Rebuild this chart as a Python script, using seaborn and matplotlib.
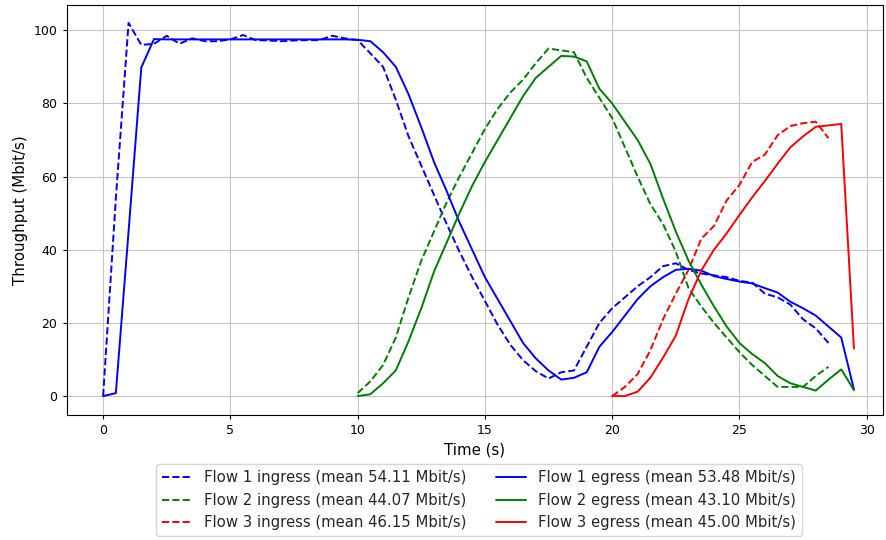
import matplotlib
matplotlib.use("Agg")
import matplotlib.pyplot as plt
import seaborn as sns

# Sample times (s), 0.5 s steps
t_flow1_in = [i * 0.5 for i in range(58)]    # 0 .. 28.5
t_flow1_out = [i * 0.5 for i in range(60)]   # 0 .. 29.5
t_flow2_in = [10 + i * 0.5 for i in range(38)]
t_flow2_out = [10 + i * 0.5 for i in range(40)]
t_flow3_in = [20 + i * 0.5 for i in range(18)]
t_flow3_out = [20 + i * 0.5 for i in range(20)]

# Throughput (Mbit/s)
flow1_ingress = [0, 54, 102, 96, 96.3, 98.5, 96.3, 97.8, 97, 97, 97.5, 98.7, 97.3, 97.2, 97, 97.2,
                 97.3, 97.3, 98.5, 97.8, 97.3, 93.7, 90, 81, 71, 63, 55, 47, 39.5, 32.5, 26,
                 19.5, 14, 9.8, 6.8, 4.8, 6.5, 7, 13.5, 20, 24, 27, 30, 32.5, 35.5, 36.3, 34.5,
                 33.5, 33, 32.5, 31.5, 31, 28, 27, 25, 21, 18.5, 14.5]
flow1_egress = [0, 0.8, 45, 89.8, 97.6, 97.5, 97.5, 97.5, 97.5, 97.5, 97.5, 97.5, 97.5, 97.5,
                97.5, 97.5, 97.5, 97.5, 97.5, 97.5, 97.4, 97, 94, 90, 82.5, 73.5, 64, 56, 47.5,
                40, 32.5, 26.5, 20.5, 14.5, 10.3, 7, 4.5, 5, 6.5, 13.5, 17.5, 22, 26.5, 30,
                32.5, 34.5, 34.8, 34.3, 32.8, 32, 31.3, 30.8, 29.5, 28.3, 25.8, 24, 22, 19,
                16, 1.8]
flow2_ingress = [0.8, 4, 8.5, 16, 27, 37, 45, 53, 60, 66.5, 73, 78.5, 83, 86.5, 91, 95, 94.5,
                 94, 87, 81.5, 76, 68, 60, 52.5, 47, 39.5, 29.5, 24.5, 20, 16, 12, 8.5, 5.5,
                 2.5, 2.5, 2.5, 5.5, 8]
flow2_egress = [0, 0.5, 3.5, 7, 15, 24, 34, 42, 50, 57.5, 64, 70, 76, 82, 87, 90, 93, 92.8,
                91.5, 84, 80, 75, 70, 63.5, 54, 45, 37, 30.5, 24.5, 19, 14.5, 11.5, 9, 5.5,
                3.5, 2.5, 1.5, 4.5, 7.3, 1.6]
flow3_ingress = [0, 2.5, 6, 12.5, 21, 28, 34.5, 43, 46.5, 53.5, 57.7, 64, 66, 71.3, 73.8, 74.6,
                 75, 70.5]
flow3_egress = [0, 0, 1.2, 5, 10.5, 16.5, 26.5, 34.3, 40, 44.5, 49.5, 54.3, 58.8, 63.5, 68,
                71, 73.6, 74, 74.4, 13]

labels_in = ["Flow 1 ingress (mean 54.11 Mbit/s)",
             "Flow 2 ingress (mean 44.07 Mbit/s)",
             "Flow 3 ingress (mean 46.15 Mbit/s)"]
labels_out = ["Flow 1 egress (mean 53.48 Mbit/s)",
              "Flow 2 egress (mean 43.10 Mbit/s)",
              "Flow 3 egress (mean 45.00 Mbit/s)"]
colors = ["blue", "green", "red"]

sns.set_style("ticks", {"axes.grid": True, "grid.color": "#c4c4c4",
                        "axes.edgecolor": "black", "xtick.color": "black",
                        "ytick.color": "black", "axes.labelcolor": "black"})
plt.rcParams["font.family"] = ["DejaVu Sans"]

fig = plt.figure(figsize=(8.86, 5.40), dpi=100)
ax = fig.add_axes([0.0753, 0.232, 0.921, 0.7587])

ingress = [(t_flow1_in, flow1_ingress), (t_flow2_in, flow2_ingress), (t_flow3_in, flow3_ingress)]
egress = [(t_flow1_out, flow1_egress), (t_flow2_out, flow2_egress), (t_flow3_out, flow3_egress)]

for (tx, ty), lab, c in zip(ingress, labels_in, colors):
    sns.lineplot(x=tx, y=ty, ax=ax, color=c, linestyle="--", linewidth=1.4, label=lab)
for (tx, ty), lab, c in zip(egress, labels_out, colors):
    sns.lineplot(x=tx, y=ty, ax=ax, color=c, linestyle="-", linewidth=1.4, label=lab)

ax.set_xlim(-1.43, 30.63)
ax.set_ylim(-5.1, 106.9)
ax.set_xticks([0, 5, 10, 15, 20, 25, 30])
ax.set_yticks([0, 20, 40, 60, 80, 100])
ax.tick_params(labelsize=9, length=3.2, width=0.8)
ax.grid(True, color="#c4c4c4", linewidth=0.75)
for s in ax.spines.values():
    s.set_linewidth(0.8)
ax.set_xlabel("Time (s)", fontsize=10.8)
ax.set_ylabel("Throughput (Mbit/s)", fontsize=10.8)

ax.legend(loc="upper center", bbox_to_anchor=(479 / 886, 1 - 457 / 540),
          bbox_transform=fig.transFigure, ncol=2, fontsize=10.7, frameon=True)

fig.savefig("out.png", dpi=100)
plt.close(fig)
